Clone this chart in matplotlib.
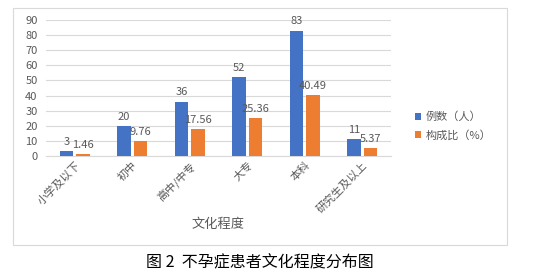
import matplotlib
matplotlib.use("Agg")
import matplotlib.pyplot as plt
import matplotlib.patches as mpatches
import numpy as np

plt.rcParams['font.family'] = ['Noto Sans CJK SC', 'DejaVu Sans']

# data
categories = ['小学及以下', '初中', '高中/中专', '大专', '本科', '研究生及以上']
counts = [3, 20, 36, 52, 83, 11]
ratios = [1.46, 9.76, 17.56, 25.36, 40.49, 5.37]
count_labels = ['3', '20', '36', '52', '83', '11']
ratio_labels = ['1.46', '9.76', '17.56', '25.36', '40.49', '5.37']

blue = '#4472C4'
orange = '#ED7D31'
gray = '#595959'

fig = plt.figure(figsize=(5.34, 2.80), dpi=100)

# chart border
fig.patches.append(mpatches.Rectangle((13 / 534, 1 - 245 / 280), 494 / 534, 237 / 280,
                                      transform=fig.transFigure, fill=False,
                                      edgecolor='#d9d9d9', linewidth=0.8))

ax = fig.add_axes([46 / 534, 1 - 156 / 280, 345 / 534, 136 / 280])
x = np.arange(len(categories))
w = 0.23
b1 = ax.bar(x - 0.145, counts, w, color=blue, label='例数（人）', zorder=3)
b2 = ax.bar(x + 0.145, ratios, w, color=orange, label='构成比（%）', zorder=3)

for rect, lab in zip(b1, count_labels):
    ax.annotate(lab, (rect.get_x() + rect.get_width() / 2, rect.get_height()),
                xytext=(0, 3), textcoords='offset points', ha='center', va='bottom',
                fontsize=8, color=gray)
for rect, lab in zip(b2, ratio_labels):
    ax.annotate(lab, (rect.get_x() + rect.get_width() / 2, rect.get_height()),
                xytext=(0, 3), textcoords='offset points', ha='center', va='bottom',
                fontsize=8, color=gray)

ax.set_xlim(-0.5, len(categories) - 0.5)
ax.set_ylim(0, 90)
ax.set_yticks(range(0, 91, 10))
ax.yaxis.grid(True, color='#d9d9d9', linewidth=0.8, zorder=0)
for s in ['top', 'right', 'left']:
    ax.spines[s].set_visible(False)
ax.spines['bottom'].set_color('#d9d9d9')
ax.tick_params(axis='both', length=0, labelsize=8, labelcolor=gray)
ax.tick_params(axis='y', pad=6)
ax.tick_params(axis='x', pad=3)
ax.set_xticks(x)
ax.set_xticklabels(categories, rotation=45, ha='right', rotation_mode='anchor')
ax.set_xlabel('文化程度', fontsize=9.5, color=gray, labelpad=2)

ax.legend(loc='center left', bbox_to_anchor=(1.04, 0.22), frameon=False,
          fontsize=8, labelcolor=gray, handlelength=0.6, handleheight=0.6,
          handletextpad=0.4, labelspacing=0.7)

fig.text(0.487, 1 - 263 / 280, '图 2  不孕症患者文化程度分布图', ha='center', va='center',
         fontsize=11.5, color='black')

fig.savefig('out.png', dpi=100)
